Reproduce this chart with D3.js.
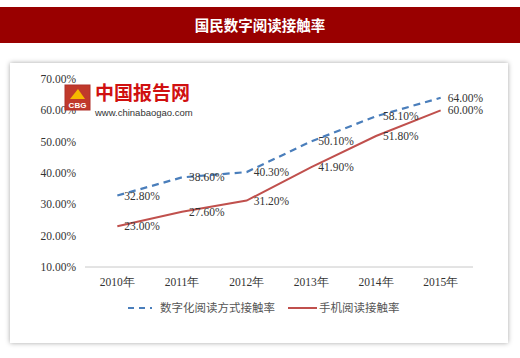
<!DOCTYPE html>
<html><head><meta charset="utf-8">
<script src="https://cdn.jsdelivr.net/npm/d3@7"></script>
<style>body{margin:0;background:#fff;}svg{display:block;}</style>
</head><body>
<svg id="c" width="520" height="358"></svg>
<script>
const title = "国民数字阅读接触率";
const categories = ["2010年","2011年","2012年","2013年","2014年","2015年"];
const digitalRate = [32.8, 38.6, 40.3, 50.1, 58.1, 64.0];
const mobileRate = [23.0, 27.6, 31.2, 41.9, 51.8, 60.0];
const yTicks = [10,20,30,40,50,60,70];
const seriesNames = ["数字化阅读方式接触率","手机阅读接触率"];

const svg = d3.select("#c");
const defs = svg.append("defs");
const f = defs.append("filter").attr("id","sh").attr("x","-5%").attr("y","-5%").attr("width","110%").attr("height","110%");
f.append("feDropShadow").attr("dx",0).attr("dy",0).attr("stdDeviation",2.5).attr("flood-color","#000").attr("flood-opacity",0.35);

// title bar
svg.append("rect").attr("x",0).attr("y",7).attr("width",520).attr("height",36).attr("fill","#990000");
svg.append("text").attr("x",260).attr("y",31).attr("text-anchor","middle")
  .attr("font-family","'Noto Sans CJK SC'").attr("font-size",14.5).attr("font-weight","bold").attr("fill","#fff").text(title);

// panel
svg.append("rect").attr("x",10).attr("y",63).attr("width",498).attr("height",280).attr("fill","#fff").attr("filter","url(#sh)");

const x = d3.scaleBand().domain(categories).range([85,473]);
const y = d3.scaleLinear().domain([10,70]).range([267,79]);

// y labels
const serif = "'Liberation Serif','Times New Roman',serif";
svg.append("g").selectAll("text").data(yTicks).join("text")
  .attr("x",76).attr("y",d=>y(d)).attr("dy","0.35em").attr("text-anchor","end")
  .attr("font-family",serif).attr("font-size",11.5).attr("fill","#333")
  .text(d=>d3.format(".2f")(d)+"%");

// x axis line
svg.append("line").attr("x1",85).attr("x2",473).attr("y1",y(10)).attr("y2",y(10)).attr("stroke","#c8c8c8").attr("stroke-width",1);
svg.append("g").selectAll("text").data(categories).join("text")
  .attr("x",d=>x(d)+x.bandwidth()/2).attr("y",282).attr("dy","0.35em").attr("text-anchor","middle")
  .attr("font-family",serif).attr("font-size",11.5).attr("fill","#333").text(d=>d);

// logo watermark
const lg = svg.append("g");
lg.append("rect").attr("x",65).attr("y",85).attr("width",25).attr("height",25).attr("fill","#c0392b").attr("stroke","#b0302a");
lg.append("path").attr("d","M70,99 L78,89 L85,99 Z").attr("fill","#f5b800");
lg.append("text").attr("x",77.5).attr("y",108).attr("text-anchor","middle").attr("font-family","Liberation Sans").attr("font-size",8).attr("font-weight","bold").attr("fill","#fff").text("CBG");
lg.append("text").attr("x",95).attr("y",100).attr("font-family","'Noto Sans CJK SC'").attr("font-weight","bold").attr("font-size",19).attr("fill","#d01010").text("中国报告网");
lg.append("text").attr("x",95).attr("y",116).attr("font-family","'Liberation Sans',Arial").attr("font-size",9.5).attr("fill","#333").text("www.chinabaogao.com");

const cx = (d,i)=>x(categories[i])+x.bandwidth()/2;
const line = d3.line().x(cx).y(d=>y(d));

svg.append("path").datum(digitalRate).attr("d",line).attr("fill","none")
  .attr("stroke","#4a7ebb").attr("stroke-width",2.2).attr("stroke-dasharray","7,5");
svg.append("path").datum(mobileRate).attr("d",line).attr("fill","none")
  .attr("stroke","#c0504d").attr("stroke-width",2);

function labels(data){
  svg.append("g").selectAll("text").data(data).join("text")
    .attr("x",(d,i)=>cx(d,i)+7).attr("y",d=>y(d)).attr("dy","0.35em")
    .attr("font-family",serif).attr("font-size",11.5).attr("fill","#333")
    .text(d=>d3.format(".2f")(d)+"%");
}
labels(digitalRate);
labels(mobileRate);

// legend
const leg = svg.append("g");
leg.append("line").attr("x1",128).attr("x2",152).attr("y1",308).attr("y2",308).attr("stroke","#4a7ebb").attr("stroke-width",2.2).attr("stroke-dasharray","6,5");
leg.append("text").attr("x",160).attr("y",308).attr("dy","0.35em").attr("font-family","'Noto Sans CJK SC'").attr("font-size",11.5).attr("fill","#555").text(seriesNames[0]);
leg.append("line").attr("x1",288).attr("x2",317).attr("y1",308).attr("y2",308).attr("stroke","#c0504d").attr("stroke-width",2);
leg.append("text").attr("x",319).attr("y",308).attr("dy","0.35em").attr("font-family","'Noto Sans CJK SC'").attr("font-size",11.5).attr("fill","#555").text(seriesNames[1]);
</script>
</body></html>
